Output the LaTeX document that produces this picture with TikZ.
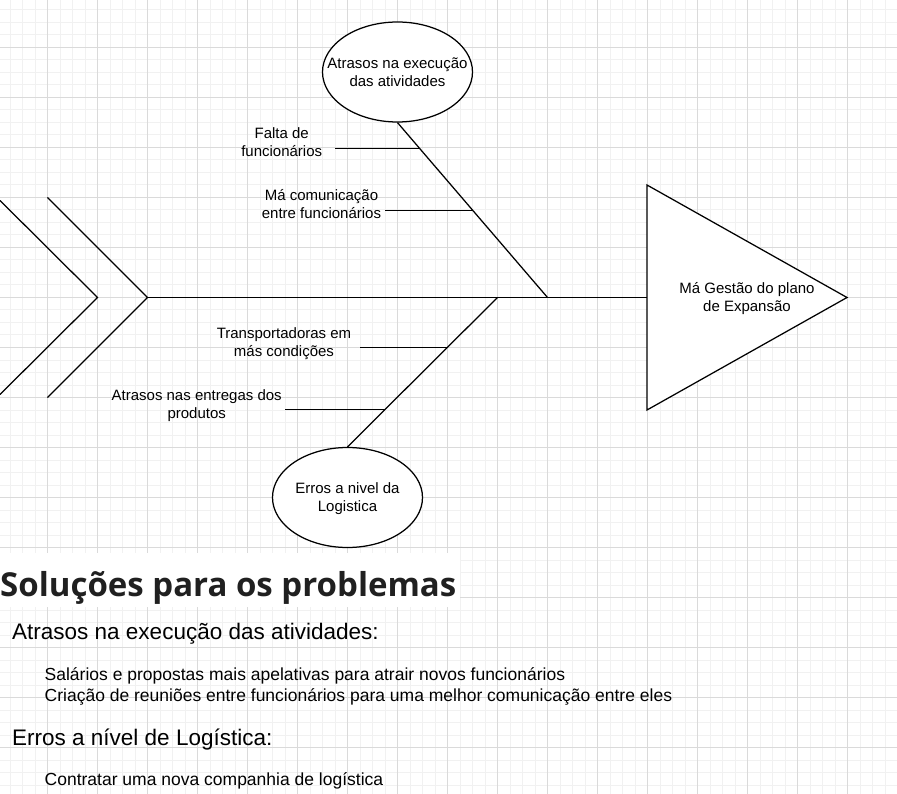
\documentclass[tikz,border=0pt]{standalone}
\usepackage{fontspec}
\setmainfont{Liberation Sans}
\newfontfamily\titlefont{Open Sans}
\usetikzlibrary{shapes.geometric,calc}
\newcommand\ls{\rule[-3.8pt]{0pt}{18pt}}
\definecolor{minorgrid}{HTML}{F1F1F1}
\definecolor{majorgrid}{HTML}{DADADA}
\definecolor{titlecol}{HTML}{202020}
\begin{document}
\begin{tikzpicture}[x=1pt,y=-1pt,
  minorline/.style={draw=minorgrid,line width=1pt},
  majorline/.style={draw=majorgrid,line width=1pt},
  bone/.style={draw=black,line width=1.25pt},
  oval/.style={ellipse,draw=black,fill=white,line width=1.25pt,minimum width=150pt,minimum height=100pt,inner sep=0pt},
  lbl/.style={font=\fontsize{15}{18}\selectfont,align=center,inner sep=0pt},
  heading/.style={font=\fontsize{22.5}{27}\selectfont,anchor=base west,inner sep=0pt},
  item/.style={font=\fontsize{17.5}{21}\selectfont,anchor=base west,inner sep=0pt},
]
\useasboundingbox (0,0) rectangle (897,794);
\fill[white] (0,0) rectangle (897,794);
% grid
\foreach \k in {0,...,70} \draw[minorline] ({10+12.5*\k},0) -- ({10+12.5*\k},794);
\foreach \k in {0,...,62} \draw[minorline] (0,{10+12.5*\k}) -- (897,{10+12.5*\k});
\foreach \k in {0,...,16} \draw[majorline] ({47.5+50*\k},0) -- ({47.5+50*\k},794);
\foreach \k in {0,...,14} \draw[majorline] (0,{47.5+50*\k}) -- (897,{47.5+50*\k});

% tail chevrons
\coordinate (c1a) at (0,200.5);
\coordinate (c1b) at (97.5,297.5);
\coordinate (c1c) at (0,394.5);
\coordinate (c2a) at (47.5,197.5);
\coordinate (tail) at (147.5,297.5);
\coordinate (c2c) at (47.5,397.5);
\draw[bone] (c1a) -- (c1b) -- (c1c);
\draw[bone] (c2a) -- (tail) -- (c2c);

% head triangle
\coordinate (h1) at (647,185);
\coordinate (h2) at (847,297.5);
\coordinate (h3) at (647,410);
\coordinate (hl) at (647,297.5);
\draw[bone,fill=white] (h1) -- (h2) -- (h3) -- cycle;
\node[lbl] (head) at (747,297.5) {\ls Má Gestão do plano\\de Expansão\ls};

% spine
\coordinate (sp2) at (497.5,297.5);
\coordinate (sp1) at (547.5,297.5);
\draw[bone] (tail) -- (hl);

% top cause
\node[oval] (topc) at (397.5,72) {};
\node[lbl] (topt) at (topc.center) {\ls Atrasos na execução\\das atividades\ls};
\draw[bone] (topc.south) -- (sp1);
\coordinate (fa) at ($(topc.south)!0.1464!(sp1)$);
\coordinate (fb) at ($(topc.south)!0.5014!(sp1)$);
\draw[bone] (fa -| 335,0) -- (fa);
\draw[bone] (fb -| 385,0) -- (fb);
\node[lbl] (falta) at (281.7,142.3) {\ls Falta de\\funcionários\ls};
\node[lbl] (macom) at (321.5,204) {\ls Má comunicação\\entre funcionários\ls};

% bottom cause
\node[oval] (botc) at (347.5,497.5) {};
\node[lbl] (bott) at (botc.center) {\ls Erros a nivel da\\Logistica\ls};
\draw[bone] (sp2) -- (botc.north);
\coordinate (ta) at ($(sp2)!0.3347!(botc.north)$);
\coordinate (tb) at ($(sp2)!0.75!(botc.north)$);
\draw[bone] (ta -| 360,0) -- (ta);
\draw[bone] (tb -| 285,0) -- (tb);
\node[lbl] (transp) at (284,342.1) {\ls Transportadoras em\\más condições\ls};
\node[lbl] (atrent) at (196.7,403.8) {\ls Atrasos nas entregas dos\\produtos\ls};

% solutions text
\fill[white] (0,553) rectangle (460,607);
\node[font=\titlefont\bfseries\fontsize{33}{40}\selectfont,text=titlecol,anchor=base west,inner sep=0pt] (title) at (0,596) {Soluções para os problemas};
\node[heading] (h1t) at (12,639.5) {Atrasos na execução das atividades:};
\node[item] (s1) at (44.5,680.3) {Salários e propostas mais apelativas para atrair novos funcionários};
\node[item] (s2) at (44.5,701) {Criação de reuniões entre funcionários para uma melhor comunicação entre eles};
\node[heading] (h2t) at (12,745) {Erros a nível de Logística:};
\node[item] (s3) at (44.5,785) {Contratar uma nova companhia de logística};
\end{tikzpicture}
\end{document}
